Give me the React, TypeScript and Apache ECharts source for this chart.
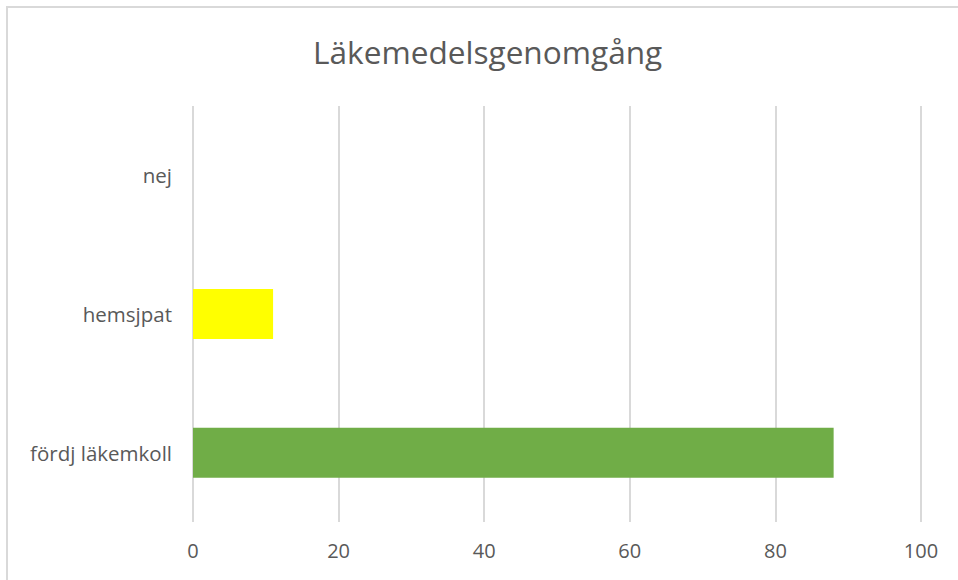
import React, { useEffect, useRef } from "react";
import * as echarts from "echarts";

const title = "Läkemedelsgenomgång";
const categories = ["fördj läkemkoll", "hemsjpat", "nej"];
const values = [88, 11, 0];
const barColors = ["#70AD47", "#FFFF00", "#5B9BD5"];
const axisMin = 0;
const axisMax = 100;
const axisInterval = 20;

export default function App() {
  const ref = useRef<HTMLDivElement>(null);
  useEffect(() => {
    if (!ref.current) return;
    const chart = echarts.init(ref.current, null, { renderer: "svg" });
    chart.setOption({
      animation: false,
      backgroundColor: "#ffffff",
      title: {
        text: title,
        left: 313,
        top: 31,
        itemGap: 0,
        padding: 0,
        textStyle: {
          fontFamily: "Open Sans",
          fontSize: 31.6,
          fontWeight: "normal",
          color: "#595959",
          lineHeight: 40,
        },
      },
      graphic: [
        {
          type: "rect",
          shape: { x: 7, y: 7, width: 1000, height: 1000 },
          style: { fill: "none", stroke: "#d9d9d9", lineWidth: 2 },
          silent: true,
        },
      ],
      grid: { left: 193, right: 37, top: 106, bottom: 58 },
      xAxis: {
        type: "value",
        min: axisMin,
        max: axisMax,
        interval: axisInterval,
        axisLine: { show: false },
        axisTick: { show: false },
        splitLine: { show: true, lineStyle: { color: "#d9d9d9", width: 2 } },
        axisLabel: {
          color: "#595959",
          fontFamily: "Open Sans",
          fontSize: 20,
          margin: 18,
        },
      },
      yAxis: {
        type: "category",
        data: categories,
        axisLine: { show: false },
        axisTick: { show: false },
        axisLabel: {
          color: "#595959",
          fontFamily: "Open Sans",
          fontSize: 20.5,
          margin: 21,
        },
      },
      series: [
        {
          type: "bar",
          barWidth: "36%",
          data: values.map((v, i) => ({ value: v, itemStyle: { color: barColors[i] } })),
        },
      ],
    });
    return () => chart.dispose();
  }, []);
  return (
    <div
      ref={ref}
      style={{ position: "fixed", left: 0, top: 0, width: 958, height: 580 }}
    />
  );
}
